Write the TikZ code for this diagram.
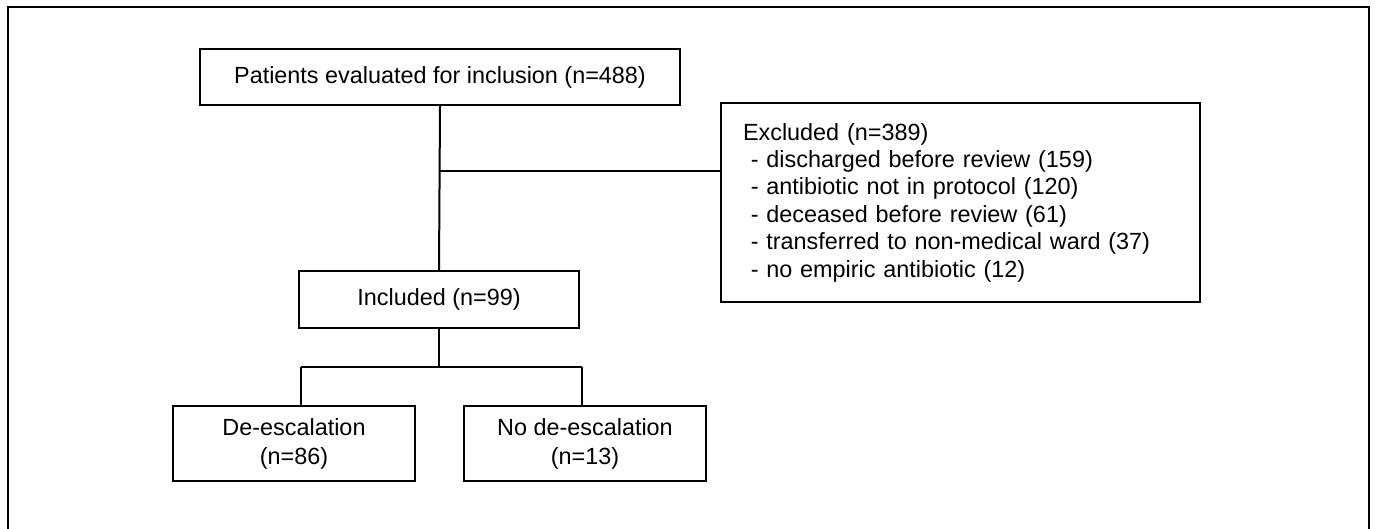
\documentclass[tikz,border=0pt]{standalone}
\usepackage{fontspec}
\setmainfont{Liberation Sans}
\begin{document}
\begin{tikzpicture}[x=1pt,y=-1pt,
  every node/.style={font=\fontsize{23.4}{29}\selectfont},
  boxnode/.style={draw=black,line width=2pt,inner sep=2pt,align=center},
  link/.style={draw=black,line width=2pt}]
\useasboundingbox (0,0) rectangle (1375,528);
\fill[white] (0,0) rectangle (1375,528);
% outer frame (bottom edge lies below the visible area)
\draw[line width=1.8pt] (8,540) -- (8,7) -- (1369,7) -- (1369,540);

\node[boxnode,minimum width=480pt,minimum height=56pt] (top) at (440,77)
  {Patients evaluated for inclusion (n=488)};
\node[boxnode,minimum width=479pt,minimum height=199pt,
      inner xsep=22pt,text width=435pt,align=left,
      font=\fontsize{23.4}{27.4}\selectfont] (exc) at (960.5,202.5)
  {Excluded (n=389)\\
   ~- discharged before review (159)\\
   ~- antibiotic not in protocol (120)\\
   ~- deceased before review (61)\\
   ~- transferred to non-medical ward (37)\\
   ~- no empiric antibiotic (12)};
\node[boxnode,minimum width=280pt,minimum height=57pt] (inc) at (439,299.5)
  {Included (n=99)};
\node[boxnode,minimum width=242pt,minimum height=75pt] (de) at (294,443.5)
  {De-escalation\\(n=86)};
\node[boxnode,minimum width=242pt,minimum height=75pt] (node) at (585,443.5)
  {No de-escalation\\(n=13)};

\coordinate (branch) at (top.south |- 0,171);
\coordinate (split) at (inc.south |- 0,367);

\draw[link] (top.south) -- (inc.north);
\draw[link] (branch) -- (branch -| exc.west);
\draw[link] (inc.south) -- (split);
\draw[link] ([xshift=3pt]split -| inc.west) -- ([xshift=2pt]split -| inc.east);
\draw[link] ([xshift=3pt]split -| inc.west) -- ([xshift=3pt]inc.west |- de.north);
\draw[link] ([xshift=2pt]split -| inc.east) -- ([xshift=2pt]inc.east |- node.north);
\end{tikzpicture}
\end{document}
